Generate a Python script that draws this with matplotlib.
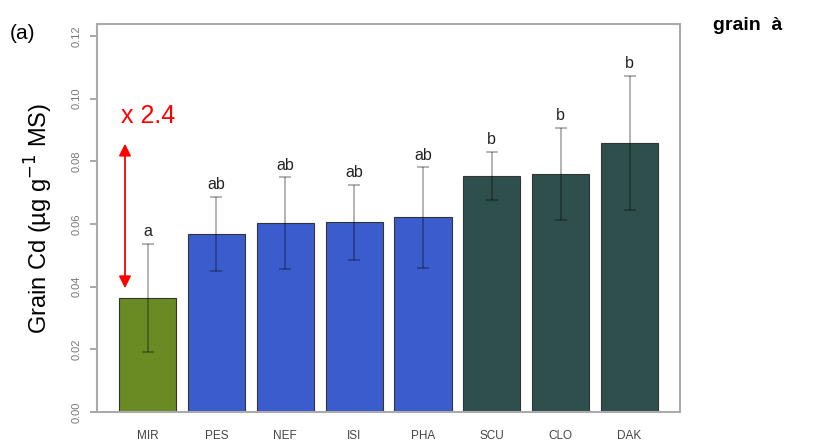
import numpy as np
import matplotlib
matplotlib.use("Agg")
import matplotlib.pyplot as plt

# Données
cultivars = ["MIR", "PES", "NEF", "ISI", "PHA", "SCU", "CLO", "DAK"]
cd_grain = [0.0364, 0.0569, 0.0602, 0.0605, 0.0621, 0.0753, 0.0759, 0.0859]
cd_err = [0.0173, 0.0118, 0.0147, 0.0120, 0.0160, 0.0078, 0.0148, 0.0213]
lettres = ["a", "ab", "ab", "ab", "ab", "b", "b", "b"]
groupes = ["vert", "bleu", "bleu", "bleu", "bleu", "fonce", "fonce", "fonce"]
couleurs = {"vert": "#6a8a24", "bleu": "#3a5ccc", "fonce": "#2f4f4d"}

plt.rcParams['font.family'] = ['Liberation Sans', 'DejaVu Sans']

fig = plt.figure(figsize=(8.23, 4.44), dpi=100)
ax = fig.add_axes([0.1179, 0.0721, 0.7084, 0.8739])

x = np.arange(len(cultivars))
ax.bar(x, cd_grain, width=0.83, color=[couleurs[g] for g in groupes],
       edgecolor="#333333", linewidth=0.8)
ax.errorbar(x, cd_grain, yerr=cd_err, fmt="none", ecolor="black", alpha=0.35,
            elinewidth=1.2, capsize=4, capthick=1.2)

for xi, v, e, l in zip(x, cd_grain, cd_err, lettres):
    ax.text(xi, v + e + 0.0015, l, ha="center", va="bottom", fontsize=11.5,
            color="#222222")

ax.set_xlim(-0.733, 7.733)
ax.set_ylim(0, 0.1238)
ax.set_yticks(np.arange(0, 0.121, 0.02))
ax.set_yticklabels([f"{t:.2f}" for t in np.arange(0, 0.121, 0.02)],
                   rotation=90, va="center", fontsize=8, color="#777777")
ax.set_xticks(x)
ax.set_xticklabels(cultivars, fontsize=8.5, color="#444444")
ax.tick_params(axis="x", length=0, pad=13)
ax.tick_params(axis="y", length=5, color="#999999", width=1.2, pad=6)
for s in ax.spines.values():
    s.set_color("#aaaaaa")
    s.set_linewidth(1.5)

ax.set_ylabel("Grain Cd (µg g$^{-1}$ MS)", fontsize=17, labelpad=12)

# flèche rouge
ax.annotate("", xy=(-0.327, 0.0386), xytext=(-0.327, 0.0865),
            arrowprops=dict(arrowstyle="<|-|>", color="red", lw=1.3,
                            mutation_scale=18))
ax.text(-0.38, 0.0945, "x 2.4", color="red", fontsize=18, ha="left",
        va="center")

fig.text(0.012, 0.925, "(a)", fontsize=15, ha="left", va="center")
fig.text(0.866, 0.942, "grain  à", fontsize=14, fontweight="bold",
         ha="left", va="center")

fig.savefig("out.png", dpi=100)
